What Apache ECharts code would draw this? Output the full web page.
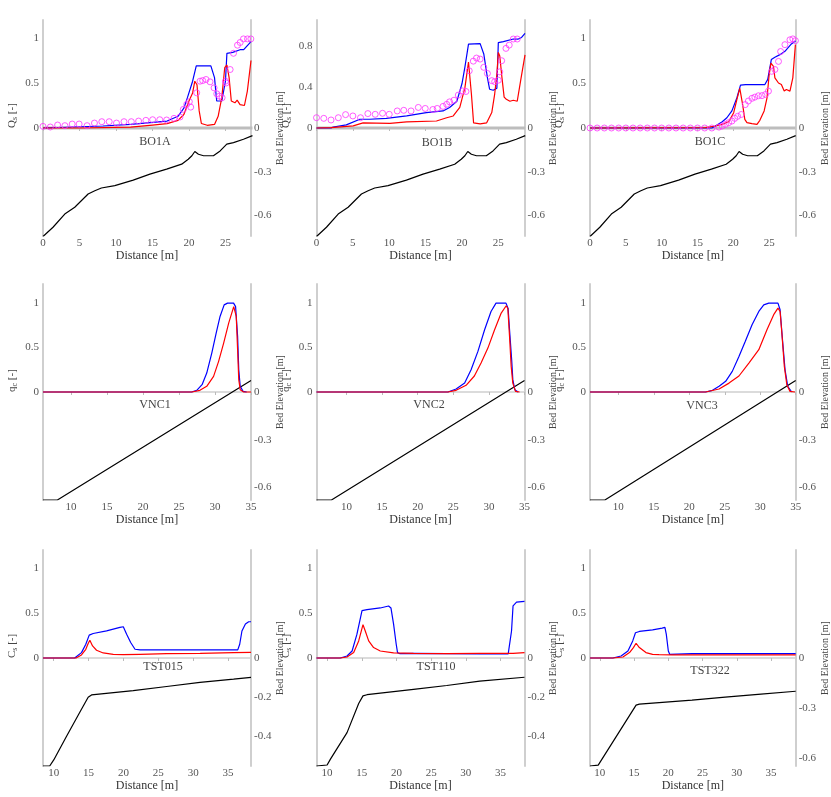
<!DOCTYPE html>
<html><head><meta charset="utf-8">
<script src="https://cdn.jsdelivr.net/npm/echarts@6/dist/echarts.min.js"></script>
<style>html,body{margin:0;padding:0;background:#fff}#c{width:831px;height:797px}</style>
</head><body><div id="c"></div><script>
// ---------- DATA ----------
var bo1aBlue = [[0,0],[8.2,0.022],[12,0.04],[17,0.077],[18.5,0.13],[19.3,0.22],[19.8,0.34],[20.5,0.52],[21,0.69],[23,0.69],[23.5,0.56],[23.8,0.30],[24.5,0.30],[25,0.52],[25.2,0.83],[26,0.84],[27,0.87],[27.5,0.87],[28.5,0.96]];
var bo1aRed = [[0,0],[5,0],[12,0.01],[15,0.033],[17,0.048],[18.5,0.085],[19.3,0.15],[20,0.30],[20.5,0.39],[20.8,0.52],[21.1,0.48],[21.4,0.19],[21.7,0.05],[22.5,0.03],[23.5,0.04],[24,0.13],[24.5,0.34],[24.9,0.67],[25.2,0.70],[25.5,0.56],[25.8,0.30],[26.3,0.28],[26.6,0.31],[27,0.26],[27.6,0.25],[28,0.41],[28.5,0.75]];
var bo1aMeas = [[0,0.018],[1,0.011],[2,0.033],[3,0.026],[4,0.044],[4.95,0.044],[6.04,0.026],[7.05,0.055],[8.06,0.07],[9.07,0.07],[10.07,0.055],[11.1,0.07],[12.1,0.07],[13.1,0.077],[14.1,0.085],[15.02,0.092],[16,0.092],[16.94,0.089],[17.95,0.107],[18.77,0.122],[19.23,0.207],[19.69,0.262],[20.05,0.292],[20.24,0.232],[21.06,0.391],[21.52,0.52],[21.88,0.527],[22.34,0.539],[22.89,0.513],[23.44,0.446],[23.81,0.38],[24.17,0.354],[24.54,0.336],[25,0.52],[25.09,0.5],[25.64,0.65],[26.1,0.83],[26.65,0.92],[27.01,0.95],[27.47,0.99],[28.02,0.99],[28.48,0.99]];

var bo1bBlue = [[0,0],[2,0],[2.3,0.01],[4.1,0.03],[5.96,0.085],[7.3,0.085],[9.6,0.094],[12.4,0.117],[15.1,0.15],[17.4,0.166],[18.3,0.2],[19.3,0.26],[20,0.43],[20.4,0.59],[20.9,0.816],[21.1,0.82],[22.5,0.82],[23,0.72],[23.5,0.49],[23.8,0.377],[24.3,0.367],[24.8,0.387],[25,0.83],[25.7,0.84],[27.06,0.865],[27.75,0.865],[28.2,0.88],[28.67,0.92]];
var bo1bRed = [[0,0],[2,0.003],[5.05,0.02],[6.4,0.05],[10.1,0.045],[12.4,0.06],[16.5,0.068],[17.9,0.1],[18.8,0.117],[19.7,0.2],[20.4,0.39],[20.9,0.64],[21.1,0.64],[21.3,0.33],[21.6,0.05],[22.5,0.04],[23.4,0.05],[24.1,0.15],[24.5,0.33],[24.8,0.52],[25,0.735],[25.2,0.7],[25.5,0.49],[25.8,0.3],[26.1,0.28],[26.6,0.26],[27.06,0.27],[27.6,0.26],[28.07,0.46],[28.67,0.71]];
var bo1bMeas = [[0,0.1],[1,0.094],[2,0.078],[3,0.1],[4,0.13],[5,0.117],[6.05,0.1],[7.06,0.14],[8.07,0.133],[9.08,0.143],[10,0.133],[11.1,0.166],[12,0.172],[13,0.166],[14,0.2],[14.95,0.19],[16,0.18],[16.6,0.19],[17.4,0.21],[17.9,0.23],[18.3,0.254],[18.9,0.27],[19.5,0.32],[20.1,0.36],[20.55,0.355],[21,0.556],[21.56,0.65],[22,0.68],[22.5,0.67],[23,0.59],[23.5,0.53],[24.1,0.46],[24.5,0.45],[25,0.465],[25.2,0.546],[25.46,0.654],[26.05,0.774],[26.5,0.806],[27.06,0.865],[27.6,0.865],[28.67,0.84]];

var bo1cBlue = [[0,0],[17,0],[17.5,0.022],[18.45,0.07],[19.1,0.114],[19.8,0.19],[20.5,0.336],[21,0.476],[21.7,0.483],[24.4,0.483],[24.8,0.54],[25.3,0.76],[25.8,0.786],[26.5,0.815],[27.2,0.852],[28.1,0.934],[28.7,0.97]];
var bo1cRed = [[0,0],[16.1,0.004],[17.5,0.022],[18.4,0.04],[19.35,0.07],[20.05,0.17],[20.5,0.317],[20.9,0.44],[21.1,0.43],[21.3,0.26],[21.6,0.096],[21.9,0.06],[22.6,0.048],[23.3,0.04],[23.7,0.085],[24.3,0.19],[24.7,0.336],[25,0.594],[25.25,0.72],[25.6,0.686],[25.8,0.557],[26.3,0.5],[26.7,0.483],[27.1,0.41],[27.4,0.428],[27.9,0.41],[28.3,0.557],[28.66,0.926]];
var bo1cMeas = [[0,0],[1,0],[2,0],[3,0],[4,0],[5,0],[6,0],[7,0],[8,0],[9,0],[10,0],[11,0],[12,0],[13,0],[14,0],[15,0],[16,0],[17,0],[18,0.01],[18.45,0.022],[18.9,0.04],[19.35,0.059],[19.8,0.077],[20.2,0.107],[20.6,0.13],[21.1,0.15],[21.66,0.26],[22.1,0.3],[22.6,0.33],[23,0.343],[23.5,0.358],[24,0.36],[24.5,0.373],[24.9,0.41],[25.35,0.63],[25.8,0.65],[26.3,0.74],[26.6,0.85],[27.2,0.926],[27.9,0.98],[28.3,0.99],[28.66,0.97]];

var bedBO = [[0,-0.743],[1.37,-0.68],[2.98,-0.59],[4.35,-0.543],[6.18,-0.452],[7.1,-0.43],[8,-0.411],[9.84,-0.395],[12.36,-0.357],[14.65,-0.316],[16.94,-0.282],[19,-0.248],[19.9,-0.214],[20.4,-0.19],[20.8,-0.161],[21.3,-0.18],[22,-0.19],[23.35,-0.19],[24.27,-0.157],[25.18,-0.111],[26.1,-0.1],[27.47,-0.077],[28.7,-0.052]];
var zeroBO = [[0,0],[28.7,0]];

var vnc1Blue = [[6.1,0],[26.76,0],[27.46,0.019],[28.2,0.082],[28.85,0.213],[29.55,0.438],[30.16,0.663],[30.7,0.85],[31.27,0.98],[31.74,1],[32.58,1],[32.86,0.96],[33.14,0.625],[33.3,0.25],[33.5,0.064],[33.9,0.007],[34.4,0]];
var vnc1Red = [[6.1,0],[26.76,0],[27.9,0.019],[28.85,0.064],[29.8,0.176],[30.5,0.345],[31.2,0.55],[31.9,0.775],[32.6,0.96],[32.8,0.98],[32.95,0.85],[33.14,0.476],[33.3,0.139],[33.5,0.026],[33.98,0],[35,0]];
var vnc2Blue = [[5.8,0],[24.25,0],[25.4,0.034],[26.6,0.1],[27.5,0.25],[28.46,0.457],[29.4,0.7],[30.3,0.906],[31,1],[32.4,1],[32.7,0.94],[32.9,0.7],[33.2,0.363],[33.36,0.139],[33.64,0.026],[34.1,0]];
var vnc2Red = [[5.8,0],[24.25,0],[25.4,0.019],[26.8,0.075],[27.96,0.18],[28.9,0.326],[29.86,0.494],[30.8,0.7],[31.73,0.888],[32.43,0.97],[32.66,0.94],[32.9,0.625],[33.13,0.288],[33.36,0.1],[33.74,0.007],[34.3,0]];
var vnc3Blue = [[6.0,0],[22.3,0],[23.27,0.019],[24.2,0.064],[25.13,0.12],[26.06,0.232],[27,0.4],[27.9,0.57],[28.85,0.757],[29.8,0.906],[30.5,0.98],[31.2,1],[32.5,1],[32.8,0.925],[33.1,0.625],[33.5,0.25],[33.88,0.064],[34.44,0]];
var vnc3Red = [[6.0,0],[22.3,0],[24.2,0.034],[25.6,0.1],[27,0.18],[28.4,0.326],[29.8,0.476],[30.95,0.7],[31.9,0.87],[32.5,0.944],[32.8,0.906],[33.05,0.663],[33.4,0.288],[33.75,0.082],[34.2,0.007],[34.9,0]];
var bedVNC1 = [[6.1,-0.68],[8.1,-0.68],[35,0.072]];
var bedVNC2 = [[5.8,-0.68],[7.9,-0.68],[35,0.072]];
var bedVNC3 = [[6.0,-0.68],[8.1,-0.68],[35,0.072]];

var tst015Blue = [[8.46,0],[13,0],[13.26,0.011],[13.98,0.06],[14.6,0.153],[15.09,0.254],[15.66,0.272],[17.58,0.302],[19.5,0.34],[19.98,0.347],[20.46,0.265],[21.04,0.172],[21.66,0.097],[22.4,0.09],[36.4,0.09],[36.68,0.153],[37,0.3],[37.5,0.377],[37.97,0.403],[38.3,0.403]];
var tst015Red = [[8.46,0],[13.2,0],[13.98,0.034],[14.6,0.097],[14.94,0.16],[15.18,0.198],[15.57,0.134],[16.14,0.086],[17.1,0.056],[18.54,0.041],[19.98,0.037],[22.4,0.041],[26.2,0.049],[31,0.052],[35.8,0.06],[38.3,0.063]];
var bedTST015 = [[8.46,-0.55],[9.42,-0.55],[10,-0.519],[11.82,-0.4],[13.74,-0.276],[14.94,-0.2],[15.42,-0.188],[21.4,-0.166],[26.2,-0.145],[30.98,-0.124],[35.8,-0.108],[38.3,-0.099]];

var tst110Blue = [[8.47,0],[11.9,0],[12.87,0.022],[13.6,0.078],[14.3,0.265],[15.03,0.526],[15.75,0.537],[17.66,0.556],[18.86,0.578],[19.2,0.556],[19.58,0.377],[19.96,0.153],[20.15,0.06],[20.5,0.048],[22.45,0.052],[27.24,0.048],[32,0.045],[36.1,0.045],[36.58,0.3],[36.8,0.58],[37.3,0.62],[38.45,0.63]];
var tst110Red = [[8.47,0],[11.9,0],[12.87,0.011],[13.83,0.06],[14.55,0.19],[15.17,0.37],[15.5,0.3],[15.99,0.19],[16.7,0.116],[17.66,0.078],[19.58,0.056],[22.45,0.052],[27.24,0.048],[32,0.052],[36.8,0.052],[38.45,0.06]];
var bedTST110 = [[8.47,-0.55],[10,-0.545],[10.48,-0.515],[12.87,-0.38],[14.55,-0.232],[15.17,-0.193],[15.75,-0.187],[22.45,-0.16],[27.24,-0.14],[32,-0.118],[38.45,-0.098]];

var tst322Blue = [[8.56,0],[11.9,0],[13.1,0.022],[14.1,0.078],[14.8,0.19],[15.2,0.28],[15.77,0.295],[17.7,0.313],[19.1,0.332],[19.5,0.34],[19.7,0.265],[20,0.078],[20.2,0.041],[23.46,0.048],[28.3,0.048],[33.1,0.048],[38.6,0.048]];
var tst322Red = [[8.56,0],[11.9,0],[13.37,0.011],[14.33,0.06],[14.9,0.116],[15.29,0.164],[15.77,0.116],[16.73,0.06],[17.7,0.041],[18.65,0.037],[20.58,0.034],[28.3,0.034],[38.6,0.034]];
var bedTST322 = [[8.56,-0.65],[9.76,-0.645],[15.29,-0.284],[15.77,-0.278],[23.46,-0.254],[28.3,-0.235],[33.1,-0.219],[38.6,-0.2]];

// tick labels
var xTicksBO = [0,5,10,15,20,25];
var xTicksLong = [10,15,20,25,30,35];
var qTicks = [0,0.5,1];
var qTicksB = [0,0.4,0.8];
var bedTicks3 = [0,-0.3,-0.6];
var bedTicks2 = [0,-0.2,-0.4];
var titles = ['BO1A','BO1B','BO1C','VNC1','VNC2','VNC3','TST015','TST110','TST322'];

// ---------- LAYOUT ----------
var colLeft = [43, 316.5, 590];
var rowTop = [20, 284, 550];
var W = 208, H = 216;
var FONT = 'Liberation Serif';

var panels = [
  {t:0,r:0,c:0,xmin:0,xmax:28.5,xt:xTicksBO,ql:1.2,qt:qTicks,bl:0.74,bt:bedTicks3,blue:bo1aBlue,red:bo1aRed,meas:bo1aMeas,bed:bedBO,zero:true,qn:'Q',qs:'s',tx:155,ty:142},
  {t:1,r:0,c:1,xmin:0,xmax:28.6,xt:xTicksBO,ql:1.05,qt:qTicksB,bl:0.74,bt:bedTicks3,blue:bo1bBlue,red:bo1bRed,meas:bo1bMeas,bed:bedBO,zero:true,qn:'Q',qs:'s',tx:437,ty:143},
  {t:2,r:0,c:2,xmin:0,xmax:28.7,xt:xTicksBO,ql:1.2,qt:qTicks,bl:0.74,bt:bedTicks3,blue:bo1cBlue,red:bo1cRed,meas:bo1cMeas,bed:bedBO,zero:true,qn:'Q',qs:'s',tx:710,ty:142},
  {t:3,r:1,c:0,xmin:6.1,xmax:35,xt:xTicksLong,ql:1.215,qt:qTicks,bl:0.68,bt:bedTicks3,blue:vnc1Blue,red:vnc1Red,bed:bedVNC1,qn:'q',qs:'c',tx:155,ty:405},
  {t:4,r:1,c:1,xmin:5.8,xmax:35,xt:xTicksLong,ql:1.215,qt:qTicks,bl:0.68,bt:bedTicks3,blue:vnc2Blue,red:vnc2Red,bed:bedVNC2,qn:'q',qs:'c',tx:429,ty:405},
  {t:5,r:1,c:2,xmin:6.0,xmax:35,xt:xTicksLong,ql:1.215,qt:qTicks,bl:0.68,bt:bedTicks3,blue:vnc3Blue,red:vnc3Red,bed:bedVNC3,qn:'q',qs:'c',tx:702,ty:406},
  {t:6,r:2,c:0,xmin:8.46,xmax:38.3,xt:xTicksLong,ql:1.2,qt:qTicks,bl:0.55,bt:bedTicks2,blue:tst015Blue,red:tst015Red,bed:bedTST015,qn:'C',qs:'s',tx:163,ty:667},
  {t:7,r:2,c:1,xmin:8.47,xmax:38.45,xt:xTicksLong,ql:1.2,qt:qTicks,bl:0.55,bt:bedTicks2,blue:tst110Blue,red:tst110Red,bed:bedTST110,qn:'C',qs:'s',tx:436,ty:667},
  {t:8,r:2,c:2,xmin:8.56,xmax:38.6,xt:xTicksLong,ql:1.2,qt:qTicks,bl:0.65,bt:bedTicks3,blue:tst322Blue,red:tst322Red,bed:bedTST322,qn:'C',qs:'s',tx:710,ty:671}
];

var grids=[], xAxes=[], yAxes=[], series=[], graphics=[];
var frameColor = '#cfcfcf';
panels.forEach(function(p, i){
  grids.push({left: colLeft[p.c], top: rowTop[p.r], width: W, height: H, containLabel:false});
  xAxes.push({type:'value', gridIndex:i, min:p.xmin, max:p.xmax, position:'bottom',
    axisLine:{show:false}, axisTick:{show:false}, splitLine:{show:false},
    axisLabel:{customValues:p.xt, color:'#555', fontFamily:FONT, fontSize:11, margin:2},
    name:'Distance [m]', nameLocation:'middle', nameGap:9,
    nameTextStyle:{color:'#333', fontFamily:FONT, fontSize:12}});
  xAxes.push({type:'value', gridIndex:i, min:p.xmin, max:p.xmax, position:'top',
    axisLine:{show:true, lineStyle:{color:frameColor, width:1.5}},
    axisTick:{show:true, inside:true, length:3, customValues:p.xt, lineStyle:{color:'#bbb'}},
    axisLabel:{show:false}, splitLine:{show:false}});
  yAxes.push({type:'value', gridIndex:i, min:-p.ql, max:p.ql, position:'left',
    axisLine:{show:true, onZero:false, lineStyle:{color:frameColor, width:2}},
    axisTick:{show:false}, splitLine:{show:false},
    axisLabel:{customValues:p.qt, color:'#555', fontFamily:FONT, fontSize:11, margin:4},
    name:'{a|'+p.qn+'}{b|'+p.qs+'}{a| [-]}', nameLocation:'middle', nameGap:24, nameRotate:90,
    nameTextStyle:{align:'left', rich:{a:{fontFamily:FONT, fontSize:11, color:'#444'}, b:{fontFamily:FONT, fontSize:8, color:'#444', verticalAlign:'bottom', padding:[5,0,0,0]}}}});
  yAxes.push({type:'value', gridIndex:i, min:-p.bl, max:p.bl, position:'right',
    axisLine:{show:true, onZero:false, lineStyle:{color:frameColor, width:2}},
    axisTick:{show:false}, splitLine:{show:false},
    axisLabel:{customValues:p.bt, color:'#555', fontFamily:FONT, fontSize:11, margin:3},
    name:'Bed Elevation [m]', nameLocation:'middle', nameGap:20, nameRotate:90,
    nameTextStyle:{fontFamily:FONT, fontSize:10, color:'#444'}});
  var xb = 2*i, yl = 2*i, yr = 2*i+1;
  if (p.zero) series.push({type:'line', xAxisIndex:xb, yAxisIndex:yl, data:zeroBO, showSymbol:false, lineStyle:{color:'#bdbdbd', width:3}, z:1, silent:true});
  series.push({type:'line', xAxisIndex:xb, yAxisIndex:yr, data:p.bed, showSymbol:false, lineStyle:{color:'#000', width:1.2}, z:2});
  series.push({type:'line', xAxisIndex:xb, yAxisIndex:yl, data:p.blue, showSymbol:false, lineStyle:{color:'#0000ff', width:1.2}, z:3});
  series.push({type:'line', xAxisIndex:xb, yAxisIndex:yl, data:p.red, showSymbol:false, lineStyle:{color:'#ff0000', width:1.2}, z:4});
  if (p.meas) series.push({type:'scatter', xAxisIndex:xb, yAxisIndex:yl, data:p.meas, symbol:'circle', symbolSize:6,
    itemStyle:{color:'rgba(255,255,255,0)', borderColor:'#ff33ff', borderWidth:1}, z:5});
  graphics.push({type:'text', x:p.tx, y:p.ty, style:{text:titles[p.t], fill:'#444', font:'12px "Liberation Serif"', textAlign:'center', textVerticalAlign:'middle'}});
});

var chart = echarts.init(document.getElementById('c'), null, {renderer:'canvas'});
chart.setOption({
  animation:false,
  backgroundColor:'#fff',
  grid:grids, xAxis:xAxes, yAxis:yAxes, series:series, graphic:graphics
});
</script></body></html>
